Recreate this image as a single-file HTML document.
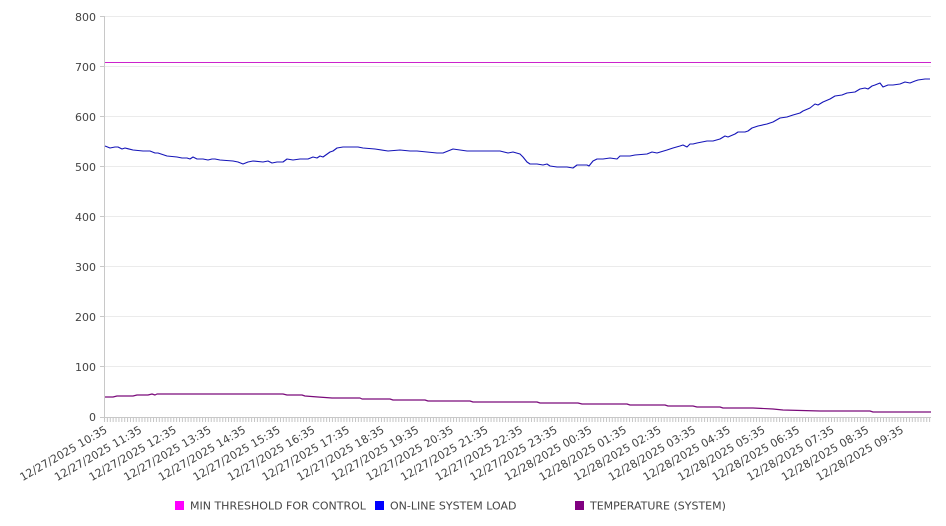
<!DOCTYPE html>
<html><head><meta charset="utf-8"><style>
html,body{margin:0;padding:0;background:#fff;}
svg{display:block;font-family:"DejaVu Sans","Liberation Sans",sans-serif;}
</style></head><body>
<svg width="946" height="526" viewBox="0 0 946 526" xmlns="http://www.w3.org/2000/svg">
<defs>
<pattern id="tk" patternUnits="userSpaceOnUse" x="104" y="0" width="2.885" height="10">
<rect x="0" y="0" width="1" height="10" fill="#c4c4c4"/>
</pattern>
</defs>
<rect width="946" height="526" fill="#fff"/>
<g stroke="#ebebeb" stroke-width="1">
<line x1="104" y1="16.5" x2="931" y2="16.5"/>
<line x1="104" y1="66.5" x2="931" y2="66.5"/>
<line x1="104" y1="116.5" x2="931" y2="116.5"/>
<line x1="104" y1="166.5" x2="931" y2="166.5"/>
<line x1="104" y1="216.5" x2="931" y2="216.5"/>
<line x1="104" y1="266.5" x2="931" y2="266.5"/>
<line x1="104" y1="316.5" x2="931" y2="316.5"/>
<line x1="104" y1="366.5" x2="931" y2="366.5"/>
</g>
<g stroke="#c8c8c8" stroke-width="1">
<line x1="104.5" y1="16" x2="104.5" y2="418"/>
<line x1="104" y1="417.5" x2="931" y2="417.5"/>
<line x1="100" y1="16.5" x2="104" y2="16.5"/>
<line x1="100" y1="66.5" x2="104" y2="66.5"/>
<line x1="100" y1="116.5" x2="104" y2="116.5"/>
<line x1="100" y1="166.5" x2="104" y2="166.5"/>
<line x1="100" y1="216.5" x2="104" y2="216.5"/>
<line x1="100" y1="266.5" x2="104" y2="266.5"/>
<line x1="100" y1="316.5" x2="104" y2="316.5"/>
<line x1="100" y1="366.5" x2="104" y2="366.5"/>
<line x1="100" y1="417.5" x2="104" y2="417.5"/>
</g>
<rect x="104" y="418" width="827" height="4" fill="url(#tk)"/>
<g font-size="11" fill="#444" text-anchor="end">
<text x="96" y="21">800</text>
<text x="96" y="71">700</text>
<text x="96" y="121">600</text>
<text x="96" y="171">500</text>
<text x="96" y="221">400</text>
<text x="96" y="271">300</text>
<text x="96" y="321">200</text>
<text x="96" y="371">100</text>
<text x="96" y="421">0</text>
</g>
<g font-size="11" fill="#444" text-anchor="end">
<text transform="translate(108,432) rotate(-30)">12/27/2025 10:35</text>
<text transform="translate(142.6,432) rotate(-30)">12/27/2025 11:35</text>
<text transform="translate(177.2,432) rotate(-30)">12/27/2025 12:35</text>
<text transform="translate(211.9,432) rotate(-30)">12/27/2025 13:35</text>
<text transform="translate(246.5,432) rotate(-30)">12/27/2025 14:35</text>
<text transform="translate(281.1,432) rotate(-30)">12/27/2025 15:35</text>
<text transform="translate(315.7,432) rotate(-30)">12/27/2025 16:35</text>
<text transform="translate(350.3,432) rotate(-30)">12/27/2025 17:35</text>
<text transform="translate(385,432) rotate(-30)">12/27/2025 18:35</text>
<text transform="translate(419.6,432) rotate(-30)">12/27/2025 19:35</text>
<text transform="translate(454.2,432) rotate(-30)">12/27/2025 20:35</text>
<text transform="translate(488.8,432) rotate(-30)">12/27/2025 21:35</text>
<text transform="translate(523.4,432) rotate(-30)">12/27/2025 22:35</text>
<text transform="translate(558.1,432) rotate(-30)">12/27/2025 23:35</text>
<text transform="translate(592.7,432) rotate(-30)">12/28/2025 00:35</text>
<text transform="translate(627.3,432) rotate(-30)">12/28/2025 01:35</text>
<text transform="translate(661.9,432) rotate(-30)">12/28/2025 02:35</text>
<text transform="translate(696.5,432) rotate(-30)">12/28/2025 03:35</text>
<text transform="translate(731.2,432) rotate(-30)">12/28/2025 04:35</text>
<text transform="translate(765.8,432) rotate(-30)">12/28/2025 05:35</text>
<text transform="translate(800.4,432) rotate(-30)">12/28/2025 06:35</text>
<text transform="translate(835,432) rotate(-30)">12/28/2025 07:35</text>
<text transform="translate(869.6,432) rotate(-30)">12/28/2025 08:35</text>
<text transform="translate(904.3,432) rotate(-30)">12/28/2025 09:35</text>
</g>
<line x1="105" y1="62.5" x2="931" y2="62.5" stroke="#cc22cc" stroke-width="1.1"/>
<polyline fill="none" stroke="#1414b8" stroke-width="1.1" stroke-linejoin="round" points="105,146 110,148 115,147 118,147 122,149 125,148 133,150 143,151 150,151 155,153 158,153 167,156 177,157 182,158 187,158 190,159 193,157 197,159 203,159 208,160 212,159 215,159 220,160 233,161 238,162 243,164 248,162 253,161 263,162 268,161 272,163 277,162 283,162 287,159 293,160 300,159 308,159 313,157 317,158 320,156 323,157 330,152 333,151 337,148 343,147 353,147 358,147 363,148 375,149 388,151 400,150 410,151 417,151 427,152 437,153 443,153 448,151 453,149 460,150 467,151 473,151 480,151 487,151 493,151 500,151 508,153 513,152 520,154 523,157 527,162 530,164 537,164 543,165 547,164 550,166 557,167 567,167 573,168 577,165 587,165 589,166 593,161 597,159 603,159 610,158 617,159 620,156 630,156 635,155 647,154 652,152 657,153 667,150 673,148 680,146 683,145 687,147 690,144 693,144 697,143 707,141 713,141 720,139 725,136 728,137 735,134 738,132 745,132 748,131 752,128 758,126 767,124 773,122 780,118 787,117 793,115 800,113 803,111 810,108 815,104 818,105 823,102 830,99 835,96 842,95 847,93 855,92 860,89 865,88 868,89 872,86 875,85 880,83 883,87 888,85 893,85 900,84 905,82 910,83 915,81 918,80 925,79 930,79"/>
<polyline fill="none" stroke="#7a0a7a" stroke-width="1.2" stroke-linejoin="round" points="105,397 113,397 117,396 133,396 137,395 148,395 152,394 155,395 157,394 283,394 287,395 302,395 305,396 318,397 332,398 360,398 362,399 390,399 393,400 425,400 428,401 470,401 473,402 537,402 540,403 578,403 582,404 627,404 630,405 665,405 668,406 693,406 697,407 720,407 723,408 753,408 773,409 783,410 820,411 823,411 870,411 873,412 931,412"/>
<g font-size="11" fill="#444">
<rect x="175" y="501" width="9" height="9" fill="#ff00ff"/>
<text x="190" y="509.5">MIN THRESHOLD FOR CONTROL</text>
<rect x="375" y="501" width="9" height="9" fill="#0000ff"/>
<text x="390" y="509.5">ON-LINE SYSTEM LOAD</text>
<rect x="575" y="501" width="9" height="9" fill="#800080"/>
<text x="590" y="509.5">TEMPERATURE (SYSTEM)</text>
</g>
</svg>
</body></html>
